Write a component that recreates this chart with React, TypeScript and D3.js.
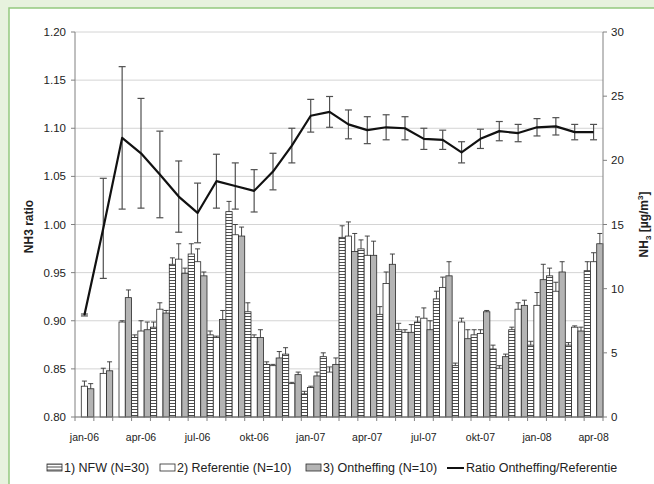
import React from 'react';
import * as d3 from 'd3';

const months = [
  'jan-06','feb-06','mrt-06','apr-06','mei-06','jun-06','jul-06','aug-06','sep-06','okt-06','nov-06','dec-06',
  'jan-07','feb-07','mrt-07','apr-07','mei-07','jun-07','jul-07','aug-07','sep-07','okt-07','nov-07','dec-07',
  'jan-08','feb-08','mrt-08','apr-08'
];
const labelledMonths = ['jan-06','apr-06','jul-06','okt-06','jan-07','apr-07','jul-07','okt-07','jan-08','apr-08'];

// NH3 concentrations [µg/m3] (right axis)
const nfw: (number | null)[] = [null,null,null,6.2,7.0,11.9,12.7,6.4,16.0,8.2,4.1,4.9,1.8,4.7,14.0,13.1,8.0,6.8,7.4,9.2,4.0,6.4,5.3,6.8,5.6,11.0,5.6,11.4];
const nfwErr: (number | null)[] = [null,null,null,0.2,0.4,0.5,0.8,0.3,0.8,0.7,0.2,0.5,0.2,0.3,0.9,0.7,0.6,0.5,0.4,0.6,0.2,0.4,0.3,0.2,0.3,0.6,0.2,0.7];
const referentie = [2.4,3.4,7.4,6.7,8.4,12.3,12.1,6.2,14.2,6.2,4.0,2.6,2.3,3.5,14.1,12.6,10.4,6.6,7.7,10.1,7.4,6.5,3.8,8.4,8.7,9.8,7.0,12.1];
const referentieErr = [0.4,0.4,0.1,0.8,0.5,1.2,1.0,0.1,0.8,0.2,0.1,0.1,0.1,0.4,1.1,1.5,0.9,0.2,0.8,0.8,0.3,0.3,0.2,0.5,1.0,0.7,0.1,0.7];
const ontheffing = [2.2,3.6,9.3,6.8,8.1,11.2,11.0,7.6,14.1,6.2,4.6,3.3,3.2,4.1,12.9,12.6,11.9,6.6,6.8,11.0,6.1,8.2,4.7,8.7,10.7,11.3,6.7,13.5];
const ontheffingErr = [0.4,0.7,0.6,0.6,0.2,0.4,0.3,0.7,0.7,0.6,0.5,0.2,0.3,0.5,1.4,1.1,0.8,0.6,0.7,1.1,0.7,0.1,0.2,0.4,1.2,0.8,0.3,0.8];

// Ratio Ontheffing/Referentie (left axis)
const ratio = [0.906,0.996,1.090,1.074,1.052,1.029,1.012,1.045,1.040,1.035,1.055,1.082,1.113,1.117,1.104,1.098,1.101,1.100,1.089,1.088,1.075,1.089,1.097,1.095,1.101,1.102,1.096,1.096];
const ratioErr = [0.001,0.052,0.074,0.057,0.045,0.037,0.031,0.028,0.024,0.022,0.019,0.018,0.017,0.016,0.015,0.014,0.013,0.012,0.011,0.010,0.011,0.010,0.010,0.009,0.009,0.009,0.008,0.008];

const leftTicks = [0.80,0.85,0.90,0.95,1.00,1.05,1.10,1.15,1.20];
const rightTicks = [0,5,10,15,20,25,30];

const W = 654, H = 484;
const L = 75, R = 603, T = 32, B = 417;
const FONT = '"Liberation Sans", Arial, sans-serif';

export default function App() {
  const x = d3.scaleBand<string>().domain(months).range([L, R]).padding(0);
  const yL = d3.scaleLinear().domain([0.8, 1.2]).range([B, T]);
  const yR = d3.scaleLinear().domain([0, 30]).range([B, T]);
  const bw = x.bandwidth() / 3;

  const series = [
    { vals: nfw, errs: nfwErr, fill: 'url(#hstripe)' },
    { vals: referentie, errs: referentieErr, fill: '#ffffff' },
    { vals: ontheffing, errs: ontheffingErr, fill: '#b4b4b4' },
  ];

  const line = d3.line<number>()
    .x((_, i) => (x(months[i]) as number) + x.bandwidth() / 2)
    .y(d => yL(d));

  const legendY = 468;

  return (
    <svg width={W} height={H} style={{ position: 'absolute', left: 0, top: 0, fontFamily: FONT }}>
      <defs>
        <pattern id="hstripe" width="4" height="3" patternUnits="userSpaceOnUse">
          <rect width="4" height="3" fill="#ffffff" />
          <rect y="1.1" width="4" height="0.9" fill="#3a3a3a" />
        </pattern>
        <pattern id="hstripeLeg" width="4" height="3" patternUnits="userSpaceOnUse" y="0.5">
          <rect width="4" height="3" fill="#ffffff" />
          <rect y="1.1" width="4" height="0.9" fill="#3a3a3a" />
        </pattern>
      </defs>
      <rect x={0} y={0} width={W} height={H} fill="#e7f2de" />
      <rect x={9} y={8} width={W + 20} height={H + 20} fill="#ffffff" stroke="#94c97f" strokeWidth={1.5} />

      {/* gridlines */}
      {leftTicks.map(t => (
        <line key={'g' + t} x1={L} x2={R} y1={yL(t)} y2={yL(t)} stroke="#d4d4d4" strokeWidth={1} />
      ))}

      {/* bars */}
      {series.map((s, si) => months.map((m, i) => {
        const v = s.vals[i];
        if (v == null) return null;
        const bx = (x(m) as number) + si * bw;
        return (
          <rect key={'b' + si + '-' + i} x={bx} y={yR(v)} width={bw} height={yR(0) - yR(v)}
            fill={s.fill} stroke="#2a2a2a" strokeWidth={0.8} />
        );
      }))}

      {/* bar error bars (plus only) */}
      {series.map((s, si) => months.map((m, i) => {
        const v = s.vals[i];
        const e = s.errs[i];
        if (v == null || e == null) return null;
        const cx = (x(m) as number) + si * bw + bw / 2;
        return (
          <g key={'e' + si + '-' + i} stroke="#333" strokeWidth={0.9}>
            <line x1={cx} x2={cx} y1={yR(v)} y2={yR(v + e)} />
            <line x1={cx - 2.5} x2={cx + 2.5} y1={yR(v + e)} y2={yR(v + e)} />
          </g>
        );
      }))}

      {/* ratio error bars */}
      {ratio.map((r, i) => {
        const cx = (x(months[i]) as number) + x.bandwidth() / 2;
        const e = ratioErr[i];
        return (
          <g key={'re' + i} stroke="#505050" strokeWidth={1.2}>
            <line x1={cx} x2={cx} y1={yL(r - e)} y2={yL(r + e)} />
            <line x1={cx - 3.5} x2={cx + 3.5} y1={yL(r + e)} y2={yL(r + e)} />
            <line x1={cx - 3.5} x2={cx + 3.5} y1={yL(r - e)} y2={yL(r - e)} />
          </g>
        );
      })}
      <path d={line(ratio) as string} fill="none" stroke="#111" strokeWidth={2.2} strokeLinejoin="round" />

      {/* axes */}
      <line x1={L} x2={L} y1={T} y2={B} stroke="#808080" strokeWidth={1} />
      <line x1={R} x2={R} y1={T} y2={B} stroke="#808080" strokeWidth={1} />
      <line x1={L} x2={R} y1={B} y2={B} stroke="#808080" strokeWidth={1} />
      {leftTicks.map(t => (
        <g key={'lt' + t}>
          <line x1={L - 4} x2={L} y1={yL(t)} y2={yL(t)} stroke="#808080" />
          <text x={L - 9} y={yL(t)} dy="0.35em" textAnchor="end" fontSize={11.5} fill="#222">{t.toFixed(2)}</text>
        </g>
      ))}
      {rightTicks.map(t => (
        <g key={'rt' + t}>
          <line x1={R} x2={R + 4} y1={yR(t)} y2={yR(t)} stroke="#808080" />
          <text x={R + 8} y={yR(t)} dy="0.35em" textAnchor="start" fontSize={11.5} fill="#222">{t}</text>
        </g>
      ))}
      {months.map(m => (
        <line key={'xt' + m} x1={x(m) as number} x2={x(m) as number} y1={B} y2={B + 4} stroke="#808080" />
      ))}
      <line x1={R} x2={R} y1={B} y2={B + 4} stroke="#808080" />
      {labelledMonths.map(m => (
        <text key={'xl' + m} x={(x(m) as number) + x.bandwidth() / 2} y={437} dy="0.35em" textAnchor="middle"
          fontSize={10.5} fill="#222">{m}</text>
      ))}

      {/* axis titles */}
      <text transform={`translate(33,${(T + B) / 2 + 2}) rotate(-90)`} textAnchor="middle" fontSize={12}
        fontWeight="bold" fill="#222">NH3 ratio</text>
      <text transform={`translate(648,${(T + B) / 2}) rotate(-90)`} textAnchor="middle" fontSize={12}
        fontWeight="bold" fill="#222">
        NH<tspan fontSize={8} dy={3}>3</tspan><tspan dy={-3}> [µg/m</tspan><tspan fontSize={8} dy={-5}>3</tspan><tspan dy={5}>]</tspan>
      </text>

      {/* legend */}
      <g fontSize={12.5} fill="#222">
        <rect x={47} y={legendY - 4} width={15} height={7} fill="url(#hstripeLeg)" stroke="#2a2a2a" strokeWidth={0.8} />
        <text x={64} y={legendY} dy="0.35em">1) NFW (N=30)</text>
        <rect x={160} y={legendY - 4} width={15} height={7} fill="#fff" stroke="#2a2a2a" strokeWidth={0.8} />
        <text x={177} y={legendY} dy="0.35em">2) Referentie (N=10)</text>
        <rect x={306} y={legendY - 4} width={15} height={7} fill="#b4b4b4" stroke="#2a2a2a" strokeWidth={0.8} />
        <text x={323} y={legendY} dy="0.35em">3) Ontheffing (N=10)</text>
        <line x1={447} x2={464} y1={legendY} y2={legendY} stroke="#111" strokeWidth={2} />
        <text x={466} y={legendY} dy="0.35em">Ratio Ontheffing/Referentie</text>
      </g>
    </svg>
  );
}
